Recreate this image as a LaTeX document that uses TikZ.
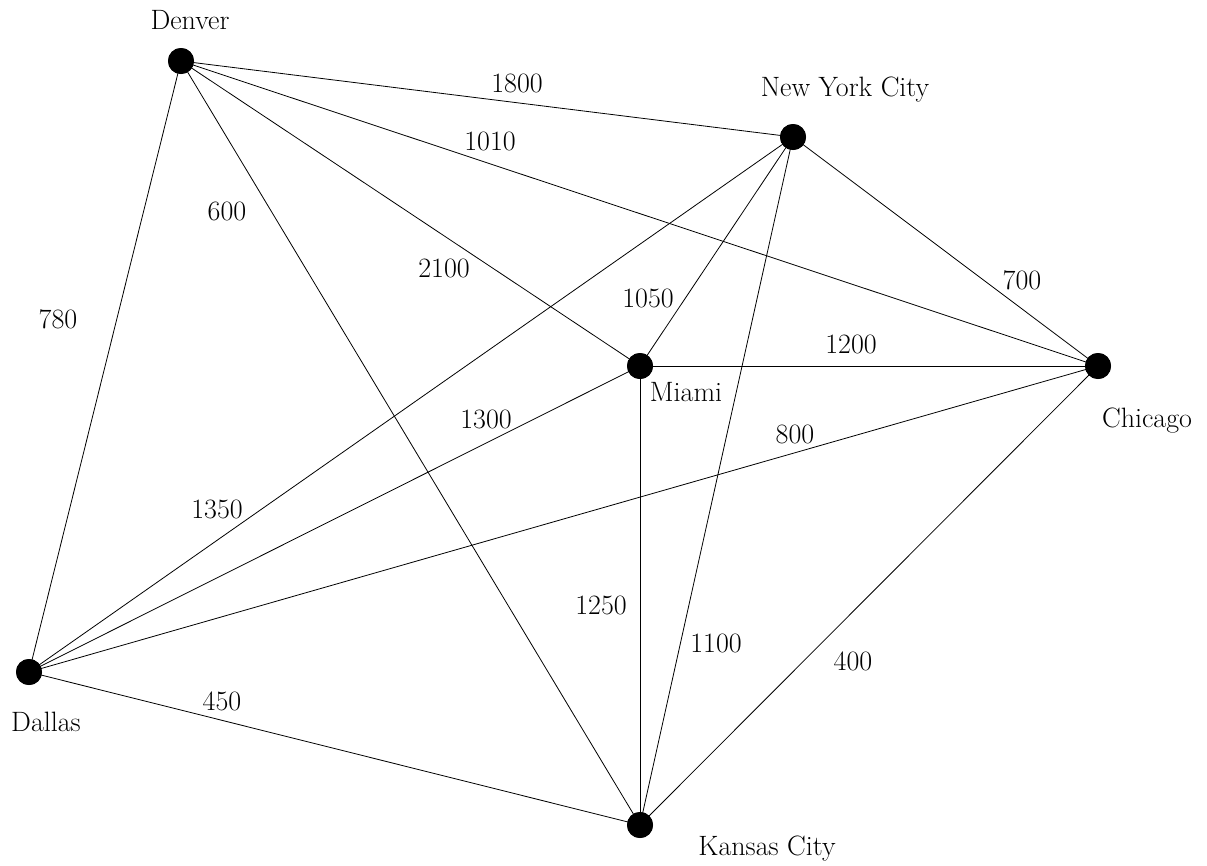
\documentclass[tikz,border=0pt]{standalone}
\begin{document}
\begin{tikzpicture}[x=1pt,y=-1pt,
  city/.style={circle,fill=black,inner sep=0pt,minimum size=26pt},
  cname/.style={font=\fontsize{28}{32}\selectfont,inner sep=0pt},
  dist/.style={font=\fontsize{28}{32}\selectfont,inner sep=0pt},
  edge/.style={line width=0.8pt}]
\useasboundingbox (0,0) rectangle (1207,865);
\node[city] (den) at (181,61) {};
\node[city] (nyc) at (793,137) {};
\node[city] (chi) at (1098,366) {};
\node[city] (mia) at (640,366) {};
\node[city] (dal) at (29,672) {};
\node[city] (kc) at (640,825) {};
\node[cname] (lden) at (190,20) {Denver};
\node[cname] (lnyc) at (845,90) {New York City};
\node[cname] (lchi) at (1147,421) {Chicago};
\node[cname] (lmia) at (686,392) {Miami};
\node[cname] (ldal) at (46,722) {Dallas};
\node[cname] (lkc) at (767,849) {Kansas City};
\draw[edge] (den.center) -- (nyc.center);
\draw[edge] (den.center) -- (chi.center);
\draw[edge] (den.center) -- (mia.center);
\draw[edge] (den.center) -- (kc.center);
\draw[edge] (den.center) -- (dal.center);
\draw[edge] (nyc.center) -- (chi.center);
\draw[edge] (nyc.center) -- (mia.center);
\draw[edge] (nyc.center) -- (kc.center);
\draw[edge] (nyc.center) -- (dal.center);
\draw[edge] (mia.center) -- (chi.center);
\draw[edge] (mia.center) -- (dal.center);
\draw[edge] (mia.center) -- (kc.center);
\draw[edge] (chi.center) -- (dal.center);
\draw[edge] (chi.center) -- (kc.center);
\draw[edge] (dal.center) -- (kc.center);
\node[dist] (d1) at (517,83) {1800};
\node[dist] (d2) at (490,141) {1010};
\node[dist] (d3) at (227,211) {600};
\node[dist] (d4) at (444,268) {2100};
\node[dist] (d5) at (58,319) {780};
\node[dist] (d6) at (648,298) {1050};
\node[dist] (d7) at (1022,280) {700};
\node[dist] (d8) at (851,344) {1200};
\node[dist] (d9) at (486,419) {1300};
\node[dist] (d10) at (795,434) {800};
\node[dist] (d11) at (217,509) {1350};
\node[dist] (d12) at (601,605) {1250};
\node[dist] (d13) at (716,643) {1100};
\node[dist] (d14) at (853,661) {400};
\node[dist] (d15) at (222,701) {450};
\foreach \n in {den,nyc,chi,mia,dal,kc} \fill (\n) circle (13pt);
\end{tikzpicture}
\end{document}
